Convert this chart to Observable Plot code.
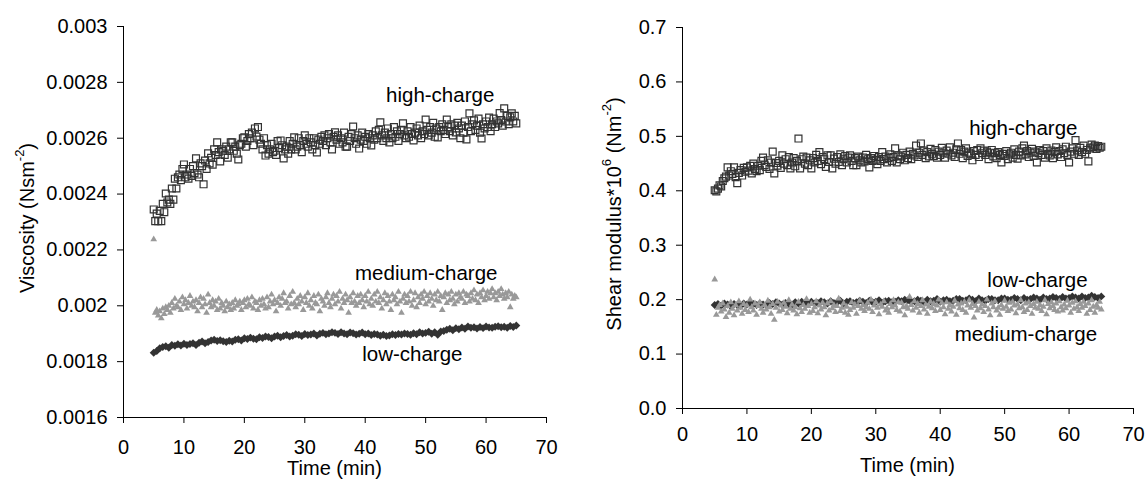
<!DOCTYPE html>
<html>
<head>
<meta charset="utf-8">
<script src="https://cdn.jsdelivr.net/npm/d3@7"></script>
<script src="https://cdn.jsdelivr.net/npm/@observablehq/plot@0.6"></script>
<style>
html, body { margin: 0; padding: 0; background: #fff; }
#wrap { display: flex; width: 1147px; height: 479px; overflow: hidden; }
#wrap svg { display: block; }
</style>
</head>
<body>
<div id="wrap"></div>
<script>
// ---------- sampling times (min) ----------
const time025 = [
5,5.25,5.5,5.75,6,6.25,6.5,6.75,7,7.25,7.5,7.75,8,8.25,8.5,8.75,9,9.25,9.5,9.75,
10,10.25,10.5,10.75,11,11.25,11.5,11.75,12,12.25,12.5,12.75,13,13.25,13.5,13.75,14,14.25,14.5,14.75,
15,15.25,15.5,15.75,16,16.25,16.5,16.75,17,17.25,17.5,17.75,18,18.25,18.5,18.75,19,19.25,19.5,19.75,
20,20.25,20.5,20.75,21,21.25,21.5,21.75,22,22.25,22.5,22.75,23,23.25,23.5,23.75,24,24.25,24.5,24.75,
25,25.25,25.5,25.75,26,26.25,26.5,26.75,27,27.25,27.5,27.75,28,28.25,28.5,28.75,29,29.25,29.5,29.75,
30,30.25,30.5,30.75,31,31.25,31.5,31.75,32,32.25,32.5,32.75,33,33.25,33.5,33.75,34,34.25,34.5,34.75,
35,35.25,35.5,35.75,36,36.25,36.5,36.75,37,37.25,37.5,37.75,38,38.25,38.5,38.75,39,39.25,39.5,39.75,
40,40.25,40.5,40.75,41,41.25,41.5,41.75,42,42.25,42.5,42.75,43,43.25,43.5,43.75,44,44.25,44.5,44.75,
45,45.25,45.5,45.75,46,46.25,46.5,46.75,47,47.25,47.5,47.75,48,48.25,48.5,48.75,49,49.25,49.5,49.75,
50,50.25,50.5,50.75,51,51.25,51.5,51.75,52,52.25,52.5,52.75,53,53.25,53.5,53.75,54,54.25,54.5,54.75,
55,55.25,55.5,55.75,56,56.25,56.5,56.75,57,57.25,57.5,57.75,58,58.25,58.5,58.75,59,59.25,59.5,59.75,
60,60.25,60.5,60.75,61,61.25,61.5,61.75,62,62.25,62.5,62.75,63,63.25,63.5,63.75,64,64.25,64.5,64.75,
65];
const time05 = time025.filter((t, i) => i % 2 === 0);

// ---------- left panel: viscosity (N s m^-2) ----------
const viscHigh = [
.002345,.002303,.00233,.002303, .00234,.002303,.002365,.002335, .002402,.00237,.00238,.002365,
.00242,.00238,.002455,.00242, .00246,.00247,.00245,.00249, .002506,.00246,.00247,.002455,
.00249,.002465,.0025,.002475, .002528,.00247,.00246,.00251, .0025,.002435,.00252,.00249,
.002546,.00251,.00253,.002505, .00256,.00254,.002585,.00255, .002517,.00256,.002555,.00254,
.00257,.00253,.00256,.002585, .002585,.002555,.00257,.002545, .002524,.002575,.00258,.0026,
.002603,.00257,.00259,.002615, .0026,.00262,.002575,.002635, .002606,.00264,.002595,.00258,
.00256,.0026,.002538,.002575, .002545,.00256,.00258,.00255, .002555,.00254,.00259,.002565,
.002592,.002575,.002528,.00256, .00257,.002545,.00259,.00256, .00258,.002603,.00256,.00257,
.0026,.002575,.00255,.00259, .00261,.00258,.00257,.0026, .002585,.00256,.0026,.002575,
.002549,.002595,.00258,.002605, .00259,.00261,.002575,.0026, .002615,.002585,.00256,.002605,
.002621,.002595,.00261,.00258, .0026,.002585,.00262,.00257, .00257,.002605,.00259,.002615,
.002642,.0026,.00258,.00261, .002563,.002595,.00262,.00259, .002605,.00258,.002615,.0026,
.002574,.00261,.002595,.002625, .0026,.00263,.002657,.00261, .00259,.00262,.0026,.002635,
.002585,.002615,.0026,.00264, .002605,.002625,.00259,.002615, .00263,.002653,.00261,.0026,
.002625,.002605,.00264,.002615, .002592,.00262,.002635,.00261, .002645,.0026,.002625,.002615,
.002667,.00263,.00261,.00264, .00262,.002655,.002605,.002635, .002603,.00264,.002625,.00265,
.00263,.002615,.002667,.00264, .002625,.00265,.00261,.002645, .002621,.002655,.002635,.0026,
.002645,.00262,.00266,.002596, .00264,.002689,.002625,.00265, .002664,.00263,.002645,.00267,
.00262,.002599,.00265,.002635, .00266,.00264,.002674,.002625, .00265,.00267,.00264,.00266,
.002653,.00269,.002665,.002645, .002707,.00266,.00268,.00265, .002675,.002689,.00266,.00268,
.002653];
const viscMedium = [
.002238,.001975,.001985,.001965, .00198,.001955,.00199,.00197, .001995,.001985,.002,.001975,
.00201,.00199,.002025,.002, .001995,.002015,.001985,.00203, .002005,.00202,.00199,.00201,
.002035,.002,.002015,.001995, .00202,.00198,.00201,.00203, .001995,.002025,.002005,.001975,
.00204,.00201,.001995,.00202, .002,.002015,.001985,.002025, .00199,.00201,.002,.00198,
.002015,.001995,.002005,.001985, .00201,.00199,.00202,.002, .002005,.002015,.001985,.00201,
.00202,.001995,.002025,.002005, .002,.00203,.00199,.002015, .00201,.001985,.00202,.002,
.002025,.002005,.00199,.00203, .001995,.002015,.00204,.002005, .00202,.00198,.00201,.00203,
.002,.002025,.002045,.00201, .002015,.00199,.002035,.002005, .00205,.00201,.001995,.002025,
.002005,.002035,.002015,.001985, .00203,.00201,.002045,.002, .00202,.00199,.002035,.00201,
.002005,.00204,.00198,.002025, .002015,.002,.00203,.002045, .00201,.001995,.002025,.00204,
.002005,.002035,.002015,.00205, .00199,.002025,.00201,.00204, .00202,.001975,.00203,.00201,
.002045,.002015,.002,.002035, .00201,.00204,.00202,.001995, .002035,.002015,.00205,.002005,
.002025,.002,.00204,.002015, .00205,.00201,.00203,.00199, .00202,.002045,.002005,.002035,
.002015,.001985,.00204,.00202, .00203,.002005,.00205,.002015, .001975,.002025,.00204,.00201,
.002035,.002015,.00205,.002, .00202,.002045,.001995,.00203, .00201,.00204,.002025,.00205,
.002005,.002035,.002015,.002045, .002025,.002,.00204,.00202, .00205,.002015,.002035,.001985,
.00203,.002045,.00201,.00204, .00202,.00205,.002025,.002005, .00204,.002015,.002045,.00203,
.002025,.00205,.00201,.00204, .002035,.002015,.002045,.002025, .002055,.00202,.00204,.00201,
.002045,.00203,.002055,.00202, .002035,.00205,.002025,.002045, .00206,.00203,.002045,.00202,
.00205,.002035,.00206,.00204, .002025,.002045,.00203,.00205, .001995,.00204,.002025,.002035,
.00203];
const viscLow = [
.001832,.001838, .001848,.001852, .001855,.00185, .00186,.001857, .001862,.001858,
.001864,.00186, .001863,.001866, .00186,.001868, .001872,.001866, .00187,.001876,
.001878,.001874, .001877,.001873, .00187,.001875, .001872,.001878, .00188,.001876,
.001884,.001881, .001886,.001882, .00188,.001887, .001885,.00189, .001888,.001884,
.00189,.001893, .001887,.001892, .001895,.00189, .001893,.001898, .001896,.001892,
.001899,.001895, .001897,.001901, .001894,.0019, .001903,.001898, .001901,.001905,
.001903,.001899, .001905,.001901, .001898,.001904, .001902,.001897, .0019,.001904,
.001898,.001901, .001895,.001899, .001897,.001893, .001896,.001892, .001894,.001898,
.001895,.001899, .001897,.001901, .001899,.001896, .001902,.001898, .001905,.001901,
.001903,.001907, .0019,.001905, .001896,.001908, .00191,.001914, .001918,.001912,
.00192,.001916, .001922,.001918, .001926,.001921, .001923,.001919, .001924,.00192,
.001926,.001922, .001921,.001925, .001927,.001923, .001925,.001921, .001928,.001924,
.001929];

// ---------- right panel: shear modulus * 10^6 (N m^-2) ----------
const shearHigh = [
.401,.399,.404,.41, .408,.418,.423,.426, .443,.428,.436,.431, .443,.425,.414,.433,
.438,.428,.442,.435, .443,.437,.446,.432, .45,.44,.436,.446, .438,.455,.461,.447,
.444,.456,.44,.452, .472,.432,.451,.446, .455,.442,.465,.45, .458,.447,.462,.441,
.452,.46,.445,.455, .496,.441,.458,.463, .45,.461,.447,.456, .441,.46,.452,.466,
.455,.471,.449,.462, .458,.444,.465,.453, .465,.441,.459,.45, .462,.453,.467,.447,
.458,.464,.452,.461, .465,.455,.447,.46, .447,.463,.456,.452, .461,.454,.466,.458,
.443,.46,.455,.464, .457,.449,.462,.455, .471,.458,.463,.452, .46,.467,.455,.462,
.478,.452,.465,.458, .463,.47,.456,.466, .46,.472,.458,.468, .465,.483,.462,.47,
.487,.466,.474,.46, .471,.463,.477,.468, .464,.475,.461,.472, .466,.479,.47,.461,
.474,.468,.48,.465, .47,.462,.476,.487, .468,.475,.46,.472, .478,.464,.47,.467,
.456,.473,.466,.475, .462,.478,.469,.474, .466,.472,.458,.47, .475,.463,.469,.46,
.471,.466,.452,.468, .464,.473,.458,.467, .47,.461,.476,.466, .459,.472,.465,.478,
.483,.467,.473,.462, .47,.477,.464,.472, .452,.469,.475,.466, .473,.461,.478,.468,
.465,.474,.46,.471, .48,.467,.473,.462, .476,.469,.481,.466, .452,.472,.478,.468,
.493,.474,.466,.479, .471,.483,.468,.475, .454,.478,.485,.48, .483,.477,.482,.479,
.481];
const shearMedium = [
.237,.172,.185,.19, .178,.193,.182,.168, .188,.176,.195,.183, .171,.19,.18,.197,
.185,.174,.192,.181, .189,.177,.2,.186, .18,.193,.172,.188, .195,.183,.176,.19,
.182,.198,.186,.174, .192,.163,.185,.196, .178,.189,.181,.194, .187,.175,.199,.183,
.191,.18,.186,.173, .196,.184,.177,.19, .183,.201,.188,.176, .192,.179,.186,.197,
.175,.189,.182,.194, .186,.171,.193,.18, .197,.184,.19,.177, .188,.202,.179,.185,
.193,.176,.187,.172, .181,.195,.185,.191, .174,.188,.198,.183, .19,.179,.186,.194,
.183,.2,.177,.189, .195,.185,.173,.191, .187,.197,.18,.184, .176,.192,.186,.199,
.189,.181,.195,.178, .194,.186,.171,.188, .183,.205,.19,.18, .197,.185,.192,.176,
.188,.199,.182,.191, .174,.187,.196,.184, .192,.179,.189,.2, .181,.194,.186,.173,
.195,.183,.19,.178, .187,.198,.172,.191, .184,.193,.181,.196, .176,.189,.199,.185,
.192,.167,.188,.18, .196,.184,.191,.177, .188,.2,.182,.171, .193,.186,.197,.18,
.185,.172,.19,.183, .198,.187,.179,.194, .182,.196,.189,.175, .191,.184,.199,.186,
.177,.193,.181,.195, .188,.174,.192,.185, .196,.183,.19,.179, .187,.199,.173,.192,
.184,.195,.188,.181, .193,.178,.197,.186, .18,.191,.184,.198, .189,.176,.194,.183,
.197,.186,.179,.192, .185,.196,.188,.174, .193,.181,.199,.187, .176,.19,.185,.196,
.182];
const shearLow = [
.19,.192, .189,.193, .191,.188, .192,.19, .189,.193, .191,.194, .192,.19, .193,.191,
.19,.194, .192,.195, .193,.191, .194,.192, .191,.195, .193,.196, .194,.192, .196,.193,
.194,.197, .195,.193, .197,.194, .195,.198, .193,.196, .197,.194, .195,.198, .196,.194,
.198,.195, .196,.199, .194,.197, .198,.195, .196,.199, .197,.2, .199,.196, .197,.2,
.198,.195, .2,.197, .198,.201, .196,.199, .2,.197, .198,.201, .201,.198, .199,.202,
.2,.197, .202,.199, .198,.201, .201,.199, .199,.202, .202,.2, .2,.203, .201,.199,
.203,.2, .201,.204, .202,.2, .204,.201, .202,.205, .203,.201, .205,.202, .203,.206,
.204,.202, .206,.203, .204,.207, .205,.203, .206];

// ---------- axis ticks ----------
const xTicks = [0, 10, 20, 30, 40, 50, 60, 70];
const viscTicks = [0.0016, 0.0018, 0.002, 0.0022, 0.0024, 0.0026, 0.0028, 0.003];
const shearTicks = [0, 0.1, 0.2, 0.3, 0.4, 0.5, 0.6, 0.7];

// ---------- series labels (data coordinates) ----------
const viscLabels = [
  {text: "high-charge", t: 52.4, v: 0.002753},
  {text: "medium-charge", t: 50.1, v: 0.002116},
  {text: "low-charge", t: 47.8, v: 0.001826}
];
const shearLabels = [
  {text: "high-charge", t: 52.9, v: 0.515},
  {text: "low-charge", t: 55.1, v: 0.235},
  {text: "medium-charge", t: 53.3, v: 0.136}
];

const FONT = '"Liberation Sans", Arial, Helvetica, sans-serif';
const toRows = (times, vals) => vals.map((v, i) => ({t: times[i], v}));

const styles = {
  high:   {symbol: "square",   r: 3.9, fill: "none", stroke: "#333", strokeWidth: 1.2},
  medium: {symbol: "triangle", r: 2.5, fill: "#999", stroke: "none"},
  low:    {symbol: "diamond2", r: 3.6, fill: "#333", stroke: "none"}
};

function panel(cfg) {
  const marks = [];
  for (const s of cfg.series) {
    marks.push(Plot.dot(s.rows, {x: "t", y: "v", ...styles[s.kind]}));
  }
  marks.push(Plot.ruleX([cfg.xDomain[0]], {stroke: "#000"}));
  marks.push(Plot.ruleY([cfg.yDomain[0]], {stroke: "#000"}));
  marks.push(Plot.text(cfg.labels, {x: "t", y: "v", text: "text", fill: "#000", fontSize: 20.5, textAnchor: "middle"}));
  const svg = Plot.plot({
    width: cfg.width, height: cfg.height,
    marginLeft: cfg.ml, marginRight: cfg.mr, marginTop: cfg.mt, marginBottom: cfg.mb,
    style: {fontFamily: FONT, fontSize: "20px", color: "#000", background: "#fff", overflow: "visible"},
    x: {domain: cfg.xDomain, ticks: xTicks, tickSize: 6, tickPadding: cfg.xPad, label: null, tickFormat: d => String(d)},
    y: {domain: cfg.yDomain, ticks: cfg.yTicks, tickSize: 6, tickPadding: 10, label: null, tickFormat: cfg.yFormat},
    marks
  });
  const sel = d3.select(svg);
  // y-axis title with superscripts
  const yt = sel.append("text")
    .attr("transform", `translate(${cfg.yTitleX},${cfg.yTitleY}) rotate(-90)`)
    .attr("text-anchor", "middle")
    .attr("dominant-baseline", "middle")
    .style("font-family", FONT).style("font-size", "20px").attr("fill", "#000");
  for (const p of cfg.yTitle) {
    const ts = yt.append("tspan").text(p.s);
    if (p.sup) ts.attr("dy", -8).style("font-size", "13px");
    else if (p.after) ts.attr("dy", 8);
  }
  // x-axis title
  sel.append("text")
    .attr("x", cfg.ml + (cfg.width - cfg.ml - cfg.mr) / 2)
    .attr("y", cfg.xTitleY)
    .attr("text-anchor", "middle")
    .attr("dominant-baseline", "middle")
    .style("font-family", FONT).style("font-size", "20px").attr("fill", "#000")
    .text("Time (min)");
  return svg;
}

const wrap = document.getElementById("wrap");

wrap.appendChild(panel({
  width: 573, height: 479, ml: 123, mr: 27, mt: 26, mb: 62,
  xDomain: [0, 70], yDomain: [0.0016, 0.003], yTicks: viscTicks,
  yFormat: d => String(d), xPad: 16,
  series: [
    {kind: "high", rows: toRows(time025, viscHigh)},
    {kind: "medium", rows: toRows(time025, viscMedium)},
    {kind: "low", rows: toRows(time05, viscLow)}
  ],
  labels: viscLabels,
  yTitle: [{s: "Viscosity (Nsm"}, {s: "-2", sup: true}, {s: ")", after: true}],
  yTitleX: 29, yTitleY: 218, xTitleY: 470
}));

wrap.appendChild(panel({
  width: 574, height: 479, ml: 109, mr: 14, mt: 27, mb: 71,
  xDomain: [0, 70], yDomain: [0, 0.7], yTicks: shearTicks,
  yFormat: d => d.toFixed(1), xPad: 12,
  series: [
    {kind: "high", rows: toRows(time025, shearHigh)},
    {kind: "low", rows: toRows(time05, shearLow)},
    {kind: "medium", rows: toRows(time025, shearMedium)}
  ],
  labels: shearLabels,
  yTitle: [{s: "Shear modulus*10"}, {s: "6", sup: true}, {s: " (Nm", after: true}, {s: "-2", sup: true}, {s: ")", after: true}],
  yTitleX: 43, yTitleY: 214, xTitleY: 467
}));
</script>
</body>
</html>
